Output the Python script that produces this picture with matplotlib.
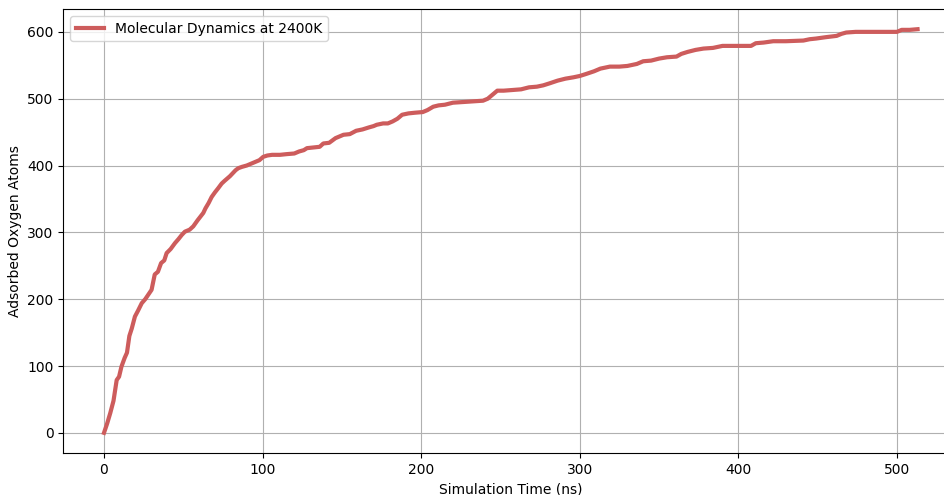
import matplotlib
matplotlib.use("Agg")
import matplotlib.pyplot as plt

# Cumulative count of adsorbed oxygen atoms over simulation time
time_ns = [
    0, 2, 4, 6, 8, 9.5, 11, 13, 14.5, 16, 17.5, 19.5, 21.5, 23.8, 26, 28, 30,
    32, 34, 36, 38, 39.5, 42, 44.8, 47, 49, 51, 54, 56.3, 59, 61, 62.6, 64, 66,
    67.9, 70, 72, 74.2, 76, 78, 79.4, 81, 83, 84.7, 87, 90, 92, 95, 98, 100.4,
    103, 106, 111, 115, 120, 123, 126, 128, 132, 136, 138.3, 142, 146, 151,
    155, 159, 163, 167, 170, 172, 176, 179, 182, 185, 188, 192, 196, 201, 204,
    207.6, 211, 215, 220, 226, 232, 239, 242, 245, 248, 252, 258, 263, 268,
    273, 277, 281, 286, 291, 296, 300, 304, 309, 313, 319, 325, 330, 336, 340,
    345, 350, 355, 361, 364, 368, 373, 378, 384, 390, 395, 403, 408, 411, 416,
    422, 430, 441, 445, 449, 455, 462, 465, 468, 474, 480, 490, 500, 503, 508,
    513,
]
adsorbed_atoms = [
    0, 14, 30, 48, 79, 84, 99, 112, 120, 145, 156, 174, 183, 194, 200, 207, 214,
    237, 241, 254, 258, 269, 275, 284, 290, 296, 301, 304, 309, 318, 324, 329,
    336, 344, 353, 360, 366, 373, 377, 381, 384, 388, 393, 396, 398, 400, 402,
    405, 408, 413, 415, 416, 416, 417, 418, 421, 423, 426, 427, 428, 433, 434,
    441, 446, 447, 452, 454, 457, 459, 461, 463, 463, 466, 470, 476, 478, 479,
    480, 483, 488, 490, 491, 494, 495, 496, 497, 500, 506, 512, 512, 513, 514,
    517, 518, 520, 523, 527, 530, 532, 534, 537, 541, 545, 548, 548, 549, 552,
    556, 557, 560, 562, 563, 567, 570, 573, 575, 576, 579, 579, 579, 579, 583,
    584, 586, 586, 587, 589, 590, 592, 594, 597, 599, 600, 600, 600, 600, 603,
    603, 604,
]
series_label = "Molecular Dynamics at 2400K"

fig = plt.figure(figsize=(9.45, 4.95), dpi=100)
ax = fig.add_axes([0.067, 0.0848, 0.947, 0.897])

ax.plot(time_ns, adsorbed_atoms, color="#cd5c5c", linewidth=3,
        solid_joinstyle="round", label=series_label)

ax.set_xticks([0, 100, 200, 300, 400, 500])
ax.set_yticks([0, 100, 200, 300, 400, 500, 600])
ax.grid(True, color="#b0b0b0", linewidth=0.8)
ax.set_axisbelow(True)

ax.set_xlabel("Simulation Time (ns)")
ax.set_ylabel("Adsorbed Oxygen Atoms")
ax.legend(loc="upper left")

fig.savefig("out.png", dpi=100)
